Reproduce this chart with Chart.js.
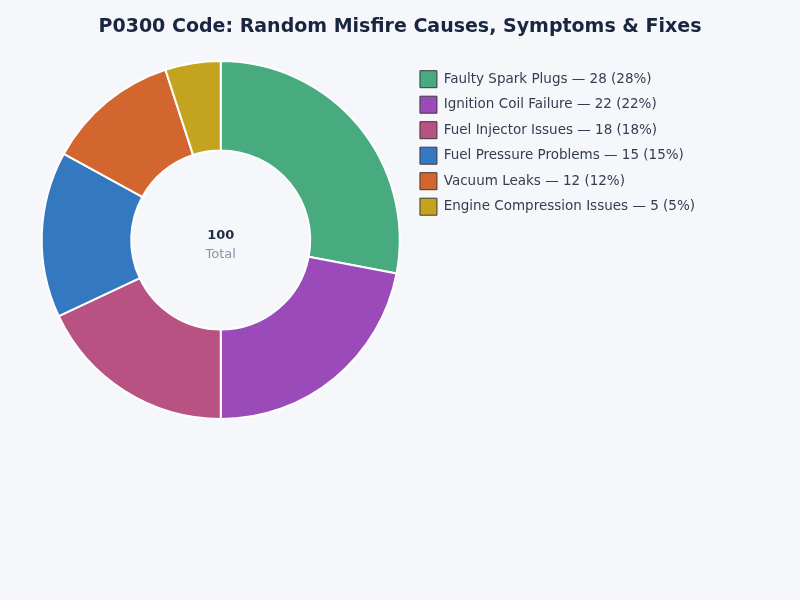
<!DOCTYPE html>
<html><head><meta charset="utf-8">
<script src="https://cdn.jsdelivr.net/npm/chart.js@4"></script>
<style>
html,body{margin:0;padding:0;background:#f5f7fb;}
#wrap{width:800px;height:600px;position:relative;}
</style></head>
<body><div id="wrap"><canvas id="c" width="800" height="600"></canvas></div>
<script>
const categories = ["Faulty Spark Plugs","Ignition Coil Failure","Fuel Injector Issues","Fuel Pressure Problems","Vacuum Leaks","Engine Compression Issues"];
const values = [28,22,18,15,12,5];
const colors = ["#48ab80","#9b4bb9","#b85282","#3478c0","#d3662f","#c4a41e"];
const titleText = "P0300 Code: Random Misfire Causes, Symptoms & Fixes";
const total = values.reduce((a,b)=>a+b,0);
const FONT = "'DejaVu Sans', sans-serif";

const centerText = {
  id:'centerText',
  afterDraw(chart){
    const ctx = chart.ctx;
    ctx.save();
    ctx.textAlign='center'; ctx.textBaseline='middle';
    ctx.font = "bold 19px " + FONT; ctx.fillStyle = '#1a2540';
    ctx.fillText(titleText, chart.width/2, 27);
    const m = chart.getDatasetMeta(0).data[0];
    if(m){
      ctx.font = "bold 13px " + FONT; ctx.fillStyle = '#1f2a44';
      ctx.fillText(String(total), m.x, m.y-4);
      ctx.font = "13px " + FONT; ctx.fillStyle = '#8a93a3';
      ctx.fillText('Total', m.x, m.y+15);
    }
    ctx.restore();
  }
};

new Chart(document.getElementById('c'), {
  type:'doughnut',
  data:{labels:categories, datasets:[{data:values, backgroundColor:colors, borderColor:'#ffffff', borderWidth:2}]},
  options:{
    responsive:false, animation:false, cutout:'50%',
    layout:{padding:{left:30,right:95,top:60,bottom:180}},
    plugins:{
      title:{display:false},
      legend:{position:'right', align:'start',
        title:{display:true, text:'', font:{size:1}, padding:{top:0,bottom:1}},
        labels:{font:{family:FONT,size:13.5}, color:'#333d4f', boxWidth:17, boxHeight:17, padding:8.5,
          generateLabels(chart){
            return categories.map((c,i)=>({text:`${c} — ${values[i]} (${Math.round(values[i]/total*100)}%)`, fillStyle:colors[i], strokeStyle:'#3a3a3a', lineWidth:1, index:i, hidden:false, fontColor:'#333d4f'}));
          }}},
      tooltip:{enabled:false}
    }
  },
  plugins:[centerText]
});
</script></body></html>
